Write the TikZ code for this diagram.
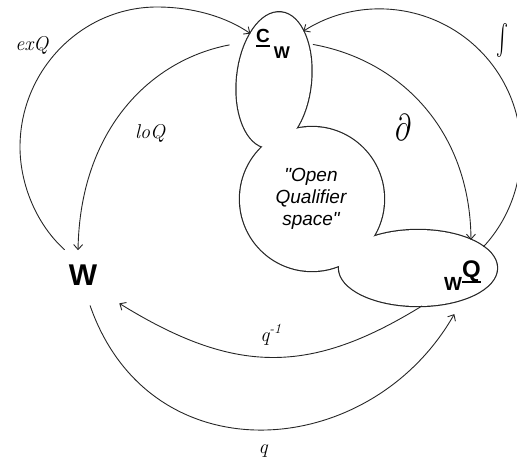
\documentclass[tikz,border=0pt]{standalone}
\usepackage{graphicx}
\usepackage{fontspec}
\setsansfont{Liberation Sans}[Ligatures=TeXOff]
\usetikzlibrary{arrows.meta,shapes.geometric}
\newcommand{\undl}[2][5pt]{\setbox0\hbox{#2}\rlap{\rule[-#1]{\wd0}{1.8pt}}\box0}
\begin{document}
\begin{tikzpicture}[x=1pt,y=-1pt,
    lobe/.style={ellipse,inner sep=0pt,outer sep=0pt},
    rim/.style={draw=black!85,line width=2.4pt},
    core/.style={fill=white},
    term/.style={inner sep=0pt,font=\sffamily\bfseries},
    lbl/.style={inner sep=0pt,font=\itshape\fontsize{20}{22}\selectfont},
    link/.style={draw=black!85,line width=.9pt,-{Straight Barb[length=5pt,width=9pt]}}]
\useasboundingbox (0,0) rectangle (517,464);
% qualifier space: thick rims first, white cores on top
\foreach \pass in {rim,core}{
  \node[lobe,\pass,minimum width=74pt,minimum height=136pt,rotate=-6] (top) at (274,80) {};
  \node[lobe,\pass,minimum width=144pt,minimum height=144pt] (mid) at (312,199) {};
  \node[lobe,\pass,minimum width=158pt,minimum height=76pt] (low) at (418,268) {};
}
\node[term,circle,minimum size=62pt,font=\sffamily\bfseries\fontsize{30}{30}\selectfont] (W) at (83,275) {W};
\node[term,anchor=base west] (Cw) at (256,42) {\fontsize{19}{19}\selectfont\undl{C}\kern4pt\raisebox{-16pt}{\fontsize{17}{17}\selectfont W}};
\node[term,anchor=base west] (wQ) at (444,277) {\raisebox{-13pt}{\fontsize{19}{19}\selectfont W}\fontsize{24}{24}\selectfont\undl[6pt]{Q}};
\node[align=center,font=\sffamily\itshape\fontsize{19}{22}\selectfont] (oqs) at (311,199) {"Open\\Qualifier\\space"};
% maps
\draw[link] (W.126) .. controls (37,225) and (20,185) .. (20,147)
  .. controls (20,70) and (82,7) .. (157,7)
  .. controls (195,7) and (228,18) .. (top.123);
\draw[link,shorten <=17pt,shorten >=-6pt] (top.132) .. controls (150,60) and (80,130) .. (W.99);
\draw[link,shorten <=5pt] (top.53) .. controls (400,60) and (470,130) .. (low.28);
\draw[link] (low.18) .. controls (507.6,220.9) and (521,185.9) .. (521,150)
  .. controls (521,99.6) and (494.1,53.1) .. (450.5,27.9)
  .. controls (404.6,1.4) and (347.7,2.8) .. (top.65);
\draw[link,shorten >=15pt] (low.-84) .. controls (310,375) and (235,375) .. (W.-41);
\draw[link,shorten >=17pt] (W.-77) .. controls (150,478) and (370,462) .. (low.-35);
% labels
\node[lbl] (exq) at (32,45) {exQ};
\node[lbl] (loq) at (150,133) {loQ};
\node[lbl] (qinv) at (271,335) {q\textsuperscript{-1}};
\node[lbl] (q) at (263,451) {q};
\node[inner sep=0pt] (del) at (403,127) {\resizebox*{16pt}{26pt}{$\partial$}};
\node[inner sep=0pt] (int) at (502,41) {\resizebox*{12pt}{34pt}{$\int$}};
\end{tikzpicture}
\end{document}
